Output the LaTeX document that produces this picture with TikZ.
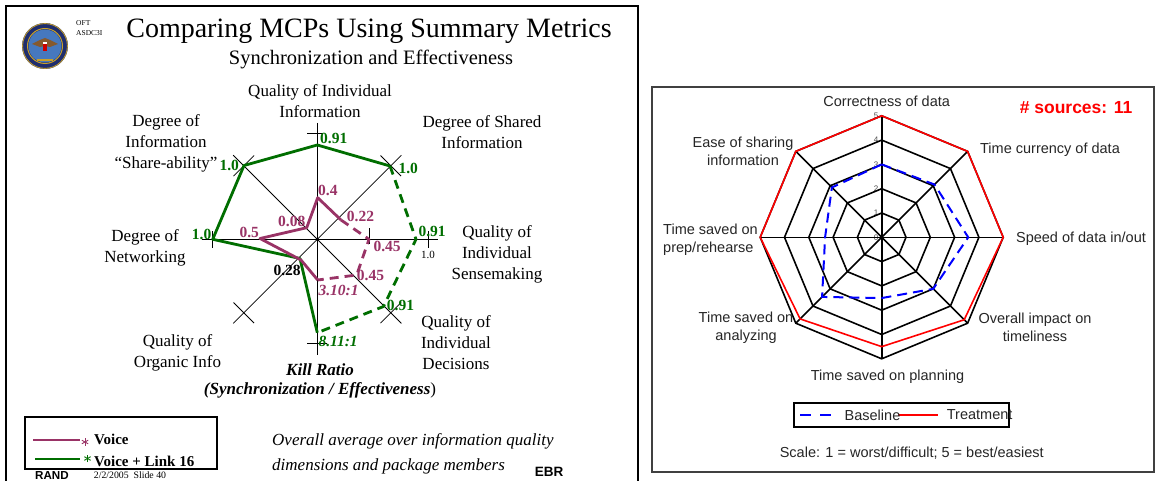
\documentclass[tikz,border=0pt]{standalone}
\usepackage{fontspec}
\setmainfont{Liberation Serif}
\newfontfamily\arialf{Liberation Sans}
\usetikzlibrary{calc}
\definecolor{vpurple}{RGB}{153,51,102}
\definecolor{vgreen}{RGB}{0,110,0}
\definecolor{navyc}{RGB}{30,45,110}
\definecolor{goldc}{RGB}{200,160,40}
\definecolor{sealblue}{RGB}{70,120,190}
\tikzset{
 axisline/.style={black, line width=0.8pt},
 gpoly/.style={vgreen, line width=2.8pt, line join=round},
 ppoly/.style={vpurple, line width=2.8pt, line join=round},
 dsh/.style={dash pattern=on 9pt off 6pt},
 vlab/.style={font=\fontsize{15.5}{18}\selectfont\bfseries, inner sep=0pt, anchor=west},
 axlab/.style={font=\fontsize{17}{21}\selectfont, align=center, inner sep=0pt},
 rlab/.style={font=\arialf\fontsize{14.5}{18}\selectfont, align=center, inner sep=0pt, text=black!85},
 ringl/.style={black, line width=1.6pt, line join=miter},
}
\begin{document}
\begin{tikzpicture}[x=1pt,y=-1pt]
\useasboundingbox (0,0) rectangle (1155,481);
\fill[white] (0,0) rectangle (1155,481);

% ================= LEFT PANEL =================
\draw[line width=2.4pt] (6,481) -- (6,6) -- (638,6) -- (638,481);

% seal
\fill[navyc] (45,46) circle (23);
\draw[goldc, line width=0.8pt] (45,46) circle (22.4);
\draw[goldc, line width=1pt] (45,46) circle (17.5);
\fill[sealblue] (45,46) circle (16.5);
\fill[brown!70!black] (32,44) -- (40,40) -- (45,38) -- (50,40) -- (58,44) -- (50,47) -- (45,46) -- (40,47) -- cycle;
\fill[red!80!black] (43,44) rectangle (47,51);
\fill[white] (43,42) rectangle (47,44);
\draw[goldc, line width=1.2pt] (37,60) -- (53,60);

\node[anchor=west, inner sep=0pt, font=\fontsize{7.5}{10}\selectfont, align=left] (oft) at (76,28) {OFT\\ASDC3I};
\node[font=\fontsize{28}{32}\selectfont, inner sep=0pt] (title) at (369,31) {Comparing MCPs Using Summary Metrics};
\node[font=\fontsize{20.5}{24}\selectfont, inner sep=0pt] (subtitle) at (371,59) {Synchronization and Effectiveness};

% axes
\coordinate (C) at (317.3,239.3);
\draw[axisline] (317.3,123) -- (317.3,355);
\draw[axisline] (202,239.3) -- (438,239.3);
\draw[axisline] (401.4,155.2) -- (233.2,323.4);
\draw[axisline] (233.2,155.2) -- (401.4,323.4);
\draw[axisline] (380.5,155.5) -- (401.1,176.1);
\draw[axisline] (233.5,302.5) -- (254.1,323.1);
\draw[axisline] (233.5,176.1) -- (254.1,155.5);
\draw[axisline] (380.5,323.1) -- (401.1,302.5);
\draw[axisline] (307,133) -- (323,133);
\draw[axisline] (307,343) -- (327,343);
\draw[axisline] (212.7,231) -- (212.7,248);
\draw[axisline] (428,231) -- (428,248);
\draw[axisline] (369,228) -- (369,244);
\fill (C) circle (1.8);

% green polygon
\coordinate (gT) at (317.3,145);
\coordinate (gNE) at (390,166);
\coordinate (gE) at (416,239.3);
\coordinate (gSE) at (383.5,306.5);
\coordinate (gS) at (317.3,332.7);
\coordinate (gSW) at (300,258.5);
\coordinate (gW) at (212.7,239.3);
\coordinate (gNW) at (244,165.5);
\draw[gpoly] (gS) -- (gSW) -- (gW) -- (gNW) -- (gT) -- (gNE);
\draw[gpoly,dsh] (gNE) -- (gE) -- (gSE) -- (gS);

% purple polygon
\coordinate (pT) at (317.7,197.7);
\coordinate (pNE) at (341,220);
\coordinate (pE) at (369,239.3);
\coordinate (pSE) at (356.7,275);
\coordinate (pS) at (317.7,280);
\coordinate (pSW) at (301,260);
\coordinate (pW) at (260,238.5);
\coordinate (pNW) at (306.7,227.7);
\draw[ppoly] (pNE) -- (pT) -- (pNW) -- (pW) -- (pSW) -- (pS);
\draw[ppoly,dsh] (pNE) -- (pE) -- (pSE) -- (pS);

% value labels
\node[vlab, text=vpurple] (v1) at (318,190.5) {0.4};
\node[vlab, text=vpurple] (v2) at (278,221.7) {0.08};
\node[vlab, text=vpurple] (v3) at (346.7,216.7) {0.22};
\node[vlab, text=vpurple] (v4) at (373.3,246.7) {0.45};
\node[vlab, text=vpurple] (v5) at (239.3,232.7) {0.5};
\node[vlab, text=vpurple] (v6) at (356.7,275) {0.45};
\node[vlab, text=vpurple, font=\fontsize{15.5}{18}\selectfont\bfseries\itshape] (v7) at (318.3,290) {3.10:1};
\node[vlab, text=vgreen] (w1) at (320,138.3) {0.91};
\node[vlab, text=vgreen] (w2) at (398.3,168.3) {1.0};
\node[vlab, text=vgreen] (w3) at (219.3,165) {1.0};
\node[vlab, text=vgreen] (w4) at (418.3,231.7) {0.91};
\node[vlab, text=vgreen] (w5) at (191.7,234) {1.0};
\node[vlab, text=vgreen] (w6) at (386.7,305) {0.91};
\node[vlab, text=vgreen, font=\fontsize{15.5}{18}\selectfont\bfseries\itshape] (w7) at (318.3,341.7) {8.11:1};
\node[vlab] (k1) at (273.3,270) {0.28};
\node[inner sep=0pt, font=\fontsize{11}{12}\selectfont] (one) at (428,254.5) {1.0};

% axis labels
\node[axlab] (a1) at (320,100.8) {Quality of Individual\\Information};
\node[axlab] (a2) at (166,143.8) {Degree of\\Information\\“Share-ability”};
\node[axlab] (a3) at (482,132.5) {Degree of Shared\\Information};
\node[axlab] (a4) at (497,254) {Quality of\\Individual\\Sensemaking};
\node[axlab] (a5) at (145,248.3) {Degree of\\Networking};
\node[axlab] (a6) at (177.5,352.8) {Quality of\\Organic Info};
\node[axlab] (a7) at (456,343) {Quality of\\Individual\\Decisions};
\node[axlab, font=\fontsize{17}{21}\selectfont\bfseries\itshape] (a8) at (320,369.3) {Kill Ratio};
\node[axlab] (a9) at (320,390.7) {\textbf{\textit{(Synchronization / Effectiveness}})};

% legend
\draw[line width=2.5pt] (25,417.2) rectangle (217,469.2);
\coordinate (lp1) at (33,440); \coordinate (lp2) at (80,440);
\coordinate (lg1) at (35,459); \coordinate (lg2) at (80,459);
\draw[vpurple, line width=2.5pt] (lp1) -- (lp2);
\draw[vgreen, line width=2.5pt] (lg1) -- (lg2);
\coordinate (ast1) at (85,442);
\coordinate (ast2) at (87.5,458.5);
\foreach \a in {90,30,150} {
 \draw[vpurple, line width=0.9pt] ($(ast1)+(\a:3.6)$) -- ($(ast1)+(\a+180:3.6)$);
 \draw[vgreen, line width=0.9pt] ($(ast2)+(\a:3.6)$) -- ($(ast2)+(\a+180:3.6)$);
}
\node[anchor=west, inner sep=0pt, font=\fontsize{15}{18}\selectfont\bfseries] (lv1) at (94,439) {Voice};
\node[anchor=west, inner sep=0pt, font=\fontsize{15}{18}\selectfont\bfseries] (lv2) at (94,461.2) {Voice + Link 16};

\node[anchor=west, inner sep=0pt, font=\fontsize{17}{20}\selectfont\itshape] (ov1) at (272,441.2) {Overall average over information quality};
\node[anchor=west, inner sep=0pt, font=\fontsize{17}{20}\selectfont\itshape] (ov2) at (272,466) {dimensions and package members};
\node[inner sep=0pt, font=\arialf\bfseries\fontsize{11.6}{13}\selectfont] (rand) at (52,475.5) {RAND};
\node[inner sep=0pt, font=\fontsize{9.8}{11}\selectfont] (date) at (130,475.5) {2/2/2005\ \ Slide 40};
\node[inner sep=0pt, font=\arialf\bfseries\fontsize{13.5}{15}\selectfont] (ebr) at (549,472) {EBR};

% ================= RIGHT PANEL =================
\draw[line width=1.5pt, black!75] (652,87) rectangle (1154,472);

\foreach \k in {0,...,5} {
 \node[font=\arialf\fontsize{8}{8}\selectfont, inner sep=0pt, text=black!70] (tk\k) at (876,{237.3-\k*24.3}) {\k};
}
\foreach \k in {1,...,5} {
 \draw[ringl] ({881.7+\k*24.3},237.3) \foreach \a in {45,90,...,315} { -- ({881.7+\k*24.3*cos(\a)},{237.3-\k*24.3*sin(\a)}) } -- cycle;
}
\foreach \a in {0,45,...,315} {
 \draw[ringl] (881.7,237.3) -- ({881.7+121.5*cos(\a)},{237.3-121.5*sin(\a)});
}

\foreach \n/\a/\v in {1/90/3.0,2/45/3.07,3/0/3.56,4/-45/3.0,5/-90/2.5,6/-135/3.47,7/180/2.33,8/135/2.9} {
 \coordinate (b\n) at ({881.7+\v*24.3*cos(\a)},{237.3-\v*24.3*sin(\a)});
}
\foreach \n/\a/\v in {1/90/5,2/45/5,3/0/5,4/-45/4.8,5/-90/4.5,6/-135/4.75,7/180/5,8/135/5} {
 \coordinate (r\n) at ({881.7+\v*24.3*cos(\a)},{237.3-\v*24.3*sin(\a)});
}
\draw[blue, line width=2pt, dash pattern=on 10pt off 6pt] (b1) -- (b2) -- (b3) -- (b4) -- (b5) -- (b6) -- (b7) -- (b8) -- cycle;
\draw[red, line width=1.6pt] (r1) -- (r2) -- (r3) -- (r4) -- (r5) -- (r6) -- (r7) -- (r8) -- cycle;

\node[rlab] (c1) at (886.7,101) {Correctness of data};
\node[rlab, font=\arialf\bfseries\fontsize{17.5}{20}\selectfont, text=red] (src) at (1076,108) {\# sources: 11};
\node[rlab] (c2) at (743,151.5) {Ease of sharing\\information};
\node[rlab] (c3) at (1050,150) {Time currency of data};
\node[rlab, align=left, anchor=west] (c4) at (663,239.5) {Time saved on\\prep/rehearse};
\node[rlab] (c5) at (1081,239) {Speed of data in/out};
\node[rlab] (c6) at (746,327.5) {Time saved on\\analyzing};
\node[rlab] (c7) at (1035,327.5) {Overall impact on\\timeliness};
\node[rlab] (c8) at (887.5,376.7) {Time saved on planning};

\draw[line width=1.4pt] (794,403) rectangle (1009,427);
\coordinate (lb1) at (800,415); \coordinate (lb2) at (834,415);
\coordinate (lr1) at (898,415); \coordinate (lr2) at (938,415);
\draw[blue, line width=2pt, dash pattern=on 11pt off 9pt] (lb1) -- (lb2);
\draw[red, line width=1.4pt] (lr1) -- (lr2);
\node[rlab] (base) at (872.5,415) {Baseline};
\node[rlab, anchor=west] (treat) at (946.7,415) {Treatment};
\node[rlab] (scale) at (911.7,453) {Scale: 1 = worst/difficult; 5 = best/easiest};
\end{tikzpicture}
\end{document}
